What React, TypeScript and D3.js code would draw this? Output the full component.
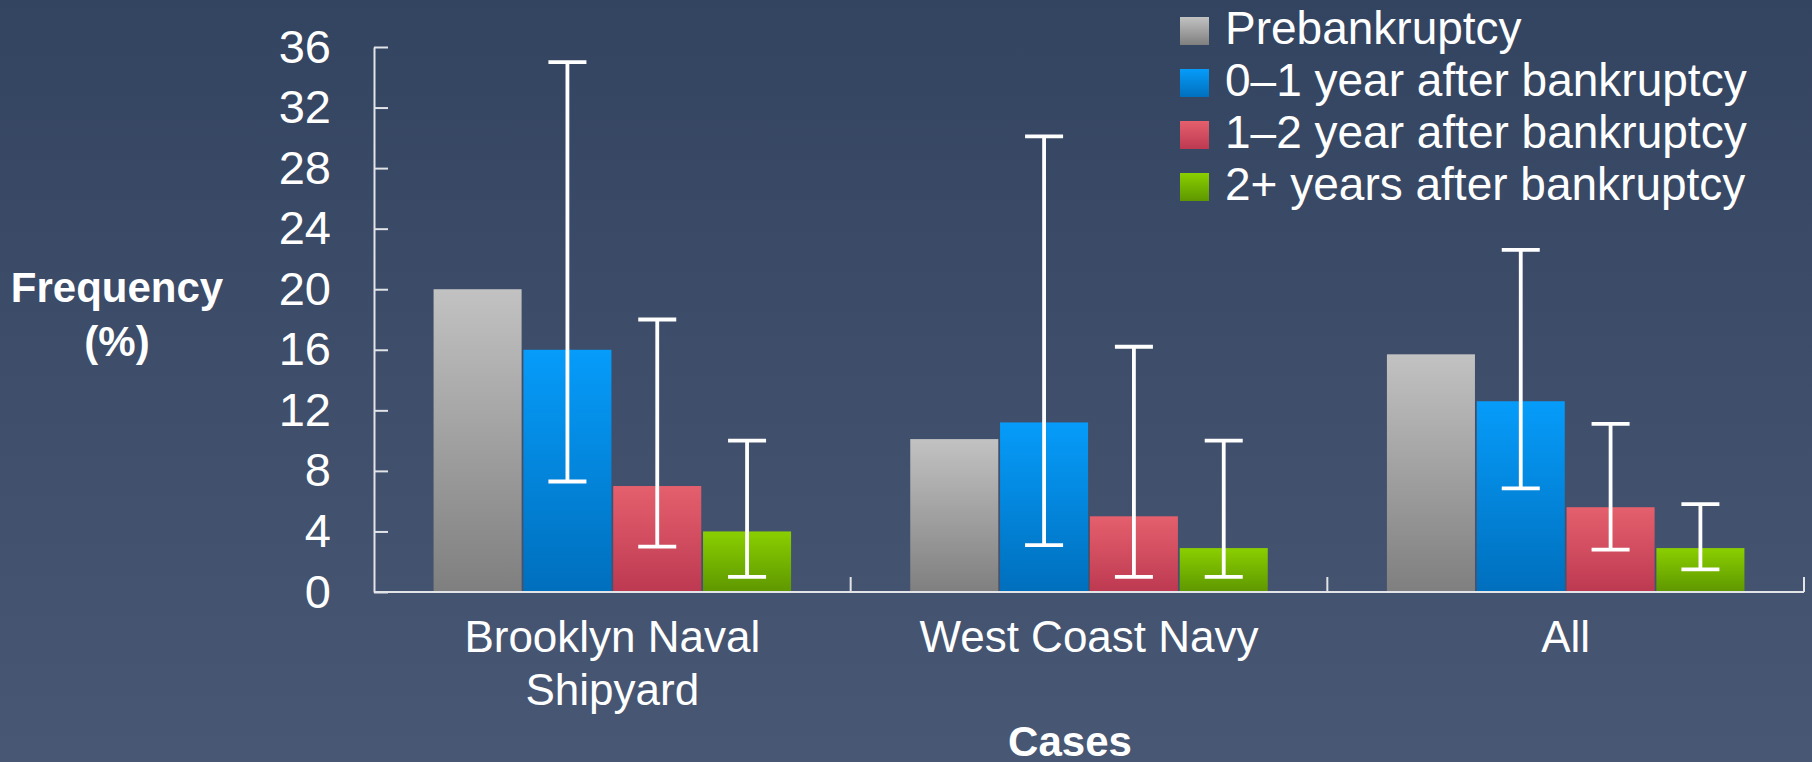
import React, { useRef, useEffect } from "react";
import * as d3 from "d3";

const categories = ["Brooklyn Naval Shipyard", "West Coast Navy", "All"];
const categoryLines = [["Brooklyn Naval", "Shipyard"], ["West Coast Navy"], ["All"]];
const seriesNames = [
    "Prebankruptcy",
    "0\u20131 year after bankruptcy",
    "1\u20132 year after bankruptcy",
    "2+ years after bankruptcy",
];

const prebankruptcy = [20, 10.1, 15.7];
const year0to1 = [16, 11.2, 12.6];
const year1to2 = [7, 5, 5.6];
const years2plus = [4, 2.9, 2.9];

// error bar ranges (low, high); prebankruptcy has none
const year0to1Low = [7.3, 3.1, 6.85];
const year0to1High = [35, 30.1, 22.6];
const year1to2Low = [3, 1, 2.8];
const year1to2High = [18, 16.2, 11.1];
const years2plusLow = [1, 1, 1.5];
const years2plusHigh = [10, 10, 5.8];

const yTicks = [0, 4, 8, 12, 16, 20, 24, 28, 32, 36];

const barColors = [
    ["#c2c2c2", "#7f7f7f"],
    ["#069cfa", "#006fbd"],
    ["#e5606d", "#bd3951"],
    ["#8acf00", "#5e9700"],
];

const FONT = "'Liberation Sans', Arial, sans-serif";

type Row = { cat: string; ci: number; si: number; value: number; low?: number; high?: number };

export const FrequencyChart = () => {
    const svgRef = useRef<SVGSVGElement>(null);

    useEffect(() => {
        if (!svgRef.current) return;
        const svg = d3.select(svgRef.current);
        svg.selectAll("*").remove();

        const width = 1812;
        const height = 762;
        const margin = { top: 47, right: 8, bottom: 170, left: 374 };

        const defs = svg.append("defs");
        const bg = defs.append("linearGradient").attr("id", "bg").attr("x1", 0).attr("y1", 0).attr("x2", 0).attr("y2", 1);
        bg.append("stop").attr("offset", "0%").attr("stop-color", "#334461");
        bg.append("stop").attr("offset", "100%").attr("stop-color", "#485774");

        barColors.forEach((c, i) => {
            const g = defs.append("linearGradient").attr("id", `bar${i}`).attr("x1", 0).attr("y1", 0).attr("x2", 0).attr("y2", 1);
            g.append("stop").attr("offset", "0%").attr("stop-color", c[0]);
            g.append("stop").attr("offset", "100%").attr("stop-color", c[1]);
        });

        svg.append("rect").attr("width", width).attr("height", height).attr("fill", "url(#bg)");

        const x = d3
            .scaleBand()
            .domain(categories)
            .range([margin.left, width - margin.right])
            .paddingInner(0.25)
            .paddingOuter(0.125);

        const xs = d3
            .scaleBand()
            .domain(seriesNames)
            .range([0, x.bandwidth()])
            .paddingInner(0.02);

        const y = d3
            .scaleLinear()
            .domain([0, 36])
            .range([height - margin.bottom, margin.top]);

        const axisColor = "#e2e4e8";

        // y axis
        const yAxis = svg
            .append("g")
            .attr("transform", `translate(${margin.left},0)`)
            .call(d3.axisLeft(y).tickValues(yTicks).tickSizeInner(-14).tickSizeOuter(0).tickPadding(43));
        yAxis.select(".domain").attr("stroke", axisColor).attr("stroke-width", 2);
        yAxis.selectAll(".tick line").attr("stroke", axisColor).attr("stroke-width", 2);
        yAxis
            .selectAll(".tick text")
            .attr("fill", "#ffffff")
            .attr("font-size", 47)
            .attr("font-family", FONT);

        // bars
        const series = [prebankruptcy, year0to1, year1to2, years2plus];
        const lows: (number[] | null)[] = [null, year0to1Low, year1to2Low, years2plusLow];
        const highs: (number[] | null)[] = [null, year0to1High, year1to2High, years2plusHigh];

        const rows: Row[] = [];
        categories.forEach((cat, ci) => {
            series.forEach((vals, si) => {
                rows.push({
                    cat,
                    ci,
                    si,
                    value: vals[ci],
                    low: lows[si]?.[ci],
                    high: highs[si]?.[ci],
                });
            });
        });

        const bx = (d: Row) => (x(d.cat) || 0) + (xs(seriesNames[d.si]) || 0);

        svg.append("g")
            .selectAll("rect")
            .data(rows)
            .enter()
            .append("rect")
            .attr("x", bx)
            .attr("y", (d) => y(d.value))
            .attr("width", xs.bandwidth())
            .attr("height", (d) => y(0) - y(d.value))
            .attr("fill", (d) => `url(#bar${d.si})`);

        // error bars
        const errRows = rows.filter((d) => d.low !== undefined && d.high !== undefined);
        const capW = 38;
        const eg = svg.append("g").attr("stroke", "#ffffff").attr("stroke-width", 3.8);
        errRows.forEach((d) => {
            const cx = bx(d) + xs.bandwidth() / 2;
            eg.append("line").attr("x1", cx).attr("x2", cx).attr("y1", y(d.high!)).attr("y2", y(d.low!));
            eg.append("line").attr("x1", cx - capW / 2).attr("x2", cx + capW / 2).attr("y1", y(d.high!)).attr("y2", y(d.high!));
            eg.append("line").attr("x1", cx - capW / 2).attr("x2", cx + capW / 2).attr("y1", y(d.low!)).attr("y2", y(d.low!));
        });

        // x axis with ticks at category boundaries
        const y0 = y(0);
        const xg = svg.append("g").attr("stroke", axisColor).attr("stroke-width", 2);
        xg.append("line")
            .attr("x1", margin.left)
            .attr("x2", width - margin.right)
            .attr("y1", y0)
            .attr("y2", y0);
        const bounds = categories.map((c) => (x(c) || 0) - (x.step() * x.paddingInner()) / 2);
        bounds.push(width - margin.right);
        bounds.slice(1).forEach((bxv) => {
            xg.append("line").attr("x1", bxv).attr("x2", bxv).attr("y1", y0).attr("y2", y0 - 15);
        });

        categories.forEach((c, ci) => {
            const t = svg
                .append("text")
                .attr("x", (x(c) || 0) + x.bandwidth() / 2)
                .attr("y", 652)
                .attr("text-anchor", "middle")
                .attr("fill", "#ffffff")
                .attr("font-size", 44)
                .attr("font-family", FONT);
            categoryLines[ci].forEach((line, li) => {
                t.append("tspan")
                    .attr("x", (x(c) || 0) + x.bandwidth() / 2)
                    .attr("dy", li === 0 ? 0 : 53)
                    .text(line);
            });
        });

        // axis titles
        const yt = svg
            .append("text")
            .attr("text-anchor", "middle")
            .attr("fill", "#ffffff")
            .attr("font-size", 42)
            .attr("font-weight", "bold")
            .attr("font-family", FONT);
        yt.append("tspan").attr("x", 117).attr("y", 302).text("Frequency");
        yt.append("tspan").attr("x", 117).attr("y", 356).text("(%)");

        svg.append("text")
            .attr("x", 1070)
            .attr("y", 756)
            .attr("text-anchor", "middle")
            .attr("fill", "#ffffff")
            .attr("font-size", 42)
            .attr("font-weight", "bold")
            .attr("font-family", FONT)
            .text("Cases");

        // legend
        const legend = svg.append("g").attr("transform", "translate(1180,0)");
        seriesNames.forEach((name, i) => {
            const base = 44 + i * 52;
            legend
                .append("rect")
                .attr("x", 0)
                .attr("y", base - 27)
                .attr("width", 29)
                .attr("height", 28)
                .attr("fill", `url(#bar${i})`);
            legend
                .append("text")
                .attr("x", 45)
                .attr("y", base)
                .attr("fill", "#ffffff")
                .attr("font-size", 46)
                .attr("font-family", FONT)
                .text(name);
        });

        svg.attr("width", width).attr("height", height);
    }, []);

    return <svg ref={svgRef} style={{ position: "absolute", left: 0, top: 0, display: "block" }} />;
};

export default function App() {
    return <FrequencyChart />;
}
